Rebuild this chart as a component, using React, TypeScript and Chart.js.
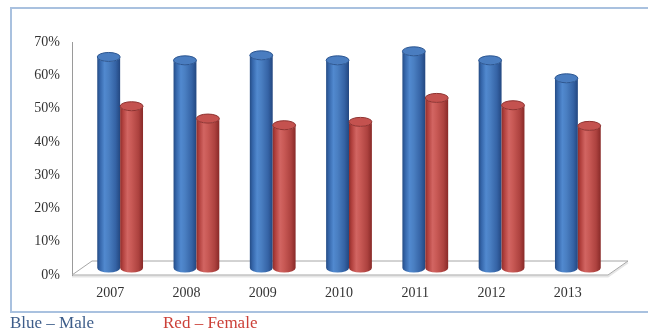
import React, { useEffect, useRef } from "react";
import { Chart, registerables } from "chart.js";

Chart.register(...registerables);

const years = ["2007", "2008", "2009", "2010", "2011", "2012", "2013"];
const maleShare = [63.4, 62.4, 63.9, 62.4, 65.1, 62.4, 57.0];
const femaleShare = [48.6, 44.9, 42.9, 43.9, 51.1, 48.9, 42.7];
const yTicks = [0, 10, 20, 30, 40, 50, 60, 70];

// depth offset of the 3-D floor (back edge relative to front edge)
const DEPTH_X = 20;
const DEPTH_Y = -14;

type CylStyle = { stops: [number, string][]; top: string; rim: string };

const maleStyle: CylStyle = {
  stops: [
    [0, "#254c85"],
    [0.12, "#3566aa"],
    [0.32, "#5189cf"],
    [0.5, "#4a7fc2"],
    [0.8, "#3563a5"],
    [1, "#234780"],
  ],
  top: "#4a7dc0",
  rim: "#2b5590",
};

const femaleStyle: CylStyle = {
  stops: [
    [0, "#8e2e2c"],
    [0.12, "#b2413e"],
    [0.32, "#d26562"],
    [0.5, "#c85955"],
    [0.8, "#ad423f"],
    [1, "#882a28"],
  ],
  top: "#c4524f",
  rim: "#8e3230",
};

const floorPlugin = {
  id: "floor3d",
  beforeDatasetsDraw(chart: any) {
    const { ctx, chartArea } = chart;
    const l = chartArea.left;
    const r = chartArea.right + 2;
    const b = chartArea.bottom;
    ctx.save();
    // thin shadow under the front edge of the floor
    ctx.strokeStyle = "rgba(0,0,0,0.1)";
    ctx.lineWidth = 2;
    ctx.beginPath();
    ctx.moveTo(l, b + 1.5);
    ctx.lineTo(r, b + 1.5);
    ctx.lineTo(r + DEPTH_X, b + DEPTH_Y + 1.5);
    ctx.stroke();
    ctx.beginPath();
    ctx.moveTo(l, b);
    ctx.lineTo(r, b);
    ctx.lineTo(r + DEPTH_X, b + DEPTH_Y);
    ctx.lineTo(l + DEPTH_X, b + DEPTH_Y);
    ctx.closePath();
    ctx.fillStyle = "#ffffff";
    ctx.fill();
    ctx.strokeStyle = "#a6a6a6";
    ctx.lineWidth = 1;
    ctx.stroke();
    ctx.restore();
  },
};

function drawCylinder(
  ctx: CanvasRenderingContext2D,
  left: number,
  right: number,
  topY: number,
  bottomY: number,
  style: CylStyle
) {
  const cx = (left + right) / 2;
  const rx = (right - left) / 2;
  const ry = 4.5;
  const grad = ctx.createLinearGradient(left, 0, right, 0);
  style.stops.forEach(([o, c]) => grad.addColorStop(o, c));
  ctx.beginPath();
  ctx.moveTo(left, topY);
  ctx.lineTo(left, bottomY);
  ctx.ellipse(cx, bottomY, rx, ry, 0, Math.PI, 0, true);
  ctx.lineTo(right, topY);
  ctx.ellipse(cx, topY, rx, ry, 0, 0, Math.PI, false);
  ctx.closePath();
  ctx.fillStyle = grad;
  ctx.fill();
  ctx.beginPath();
  ctx.ellipse(cx, topY, rx, ry, 0, 0, Math.PI * 2);
  ctx.fillStyle = style.top;
  ctx.fill();
  ctx.strokeStyle = style.rim;
  ctx.lineWidth = 1;
  ctx.stroke();
}

const cylinderPlugin = {
  id: "cylinders",
  afterDatasetsDraw(chart: any) {
    const { ctx } = chart;
    const styles = [maleStyle, femaleStyle];
    const dx = DEPTH_X / 2;
    const dy = DEPTH_Y / 2;
    ctx.save();
    const n = chart.data.labels.length;
    for (let i = 0; i < n; i++) {
      chart.data.datasets.forEach((_: any, di: number) => {
        const el = chart.getDatasetMeta(di).data[i];
        if (!el) return;
        const { x, y, base, width } = el.getProps(["x", "y", "base", "width"], true);
        drawCylinder(
          ctx,
          x - width / 2 + dx,
          x + width / 2 + dx,
          y + dy,
          base + dy,
          styles[di]
        );
      });
    }
    ctx.restore();
  },
};

export default function App() {
  const canvasRef = useRef<HTMLCanvasElement | null>(null);

  useEffect(() => {
    if (!canvasRef.current) return;
    const chart = new Chart(canvasRef.current, {
      type: "bar",
      data: {
        labels: years,
        datasets: [
          {
            label: "Male",
            data: maleShare,
            backgroundColor: "rgba(0,0,0,0)",
            borderWidth: 0,
          },
          {
            label: "Female",
            data: femaleShare,
            backgroundColor: "rgba(0,0,0,0)",
            borderWidth: 0,
          },
        ],
      },
      options: {
        responsive: false,
        animation: false,
        layout: { padding: { left: 0, right: 42, top: 42, bottom: 0 } },
        categoryPercentage: 0.6,
        barPercentage: 1,
        plugins: {
          legend: { display: false },
          tooltip: { enabled: false },
        },
        scales: {
          x: {
            grid: { display: false, drawTicks: false },
            border: { display: false },
            ticks: {
              color: "#333333",
              padding: 10,
              font: { family: "'Liberation Serif', serif", size: 14 },
            },
            afterFit(scale: any) {
              scale.height = 57;
            },
          },
          y: {
            min: 0,
            max: 70,
            afterBuildTicks(scale: any) {
              scale.ticks = yTicks.map((v) => ({ value: v }));
            },
            grid: { display: false, drawTicks: false },
            border: { display: true, color: "#9a9a9a", width: 1 },
            ticks: {
              color: "#333333",
              padding: 12,
              font: { family: "'Liberation Serif', serif", size: 14 },
              callback: (v: any) => `${v}%`,
            },
            afterFit(scale: any) {
              scale.width = 72;
            },
          },
        },
      },
      plugins: [floorPlugin, cylinderPlugin],
    });
    return () => chart.destroy();
  }, []);

  const legendText: React.CSSProperties = {
    position: "absolute",
    top: 314,
    fontFamily: "'Liberation Serif', serif",
    fontSize: 17,
    lineHeight: "17px",
    whiteSpace: "nowrap",
  };

  return (
    <div
      style={{
        position: "absolute",
        left: 0,
        top: 0,
        width: 648,
        height: 332,
        background: "#ffffff",
        overflow: "hidden",
      }}
    >
      <div
        style={{
          position: "absolute",
          left: 10,
          top: 7,
          width: 640,
          height: 302,
          border: "2px solid #a9c1df",
          boxSizing: "content-box",
        }}
      />
      <canvas
        ref={canvasRef}
        width={648}
        height={332}
        style={{ position: "absolute", left: 0, top: 0 }}
      />
      <span style={{ ...legendText, left: 10, color: "#3d5d8a" }}>Blue – Male</span>
      <span style={{ ...legendText, left: 163, color: "#cc4038" }}>Red – Female</span>
    </div>
  );
}
